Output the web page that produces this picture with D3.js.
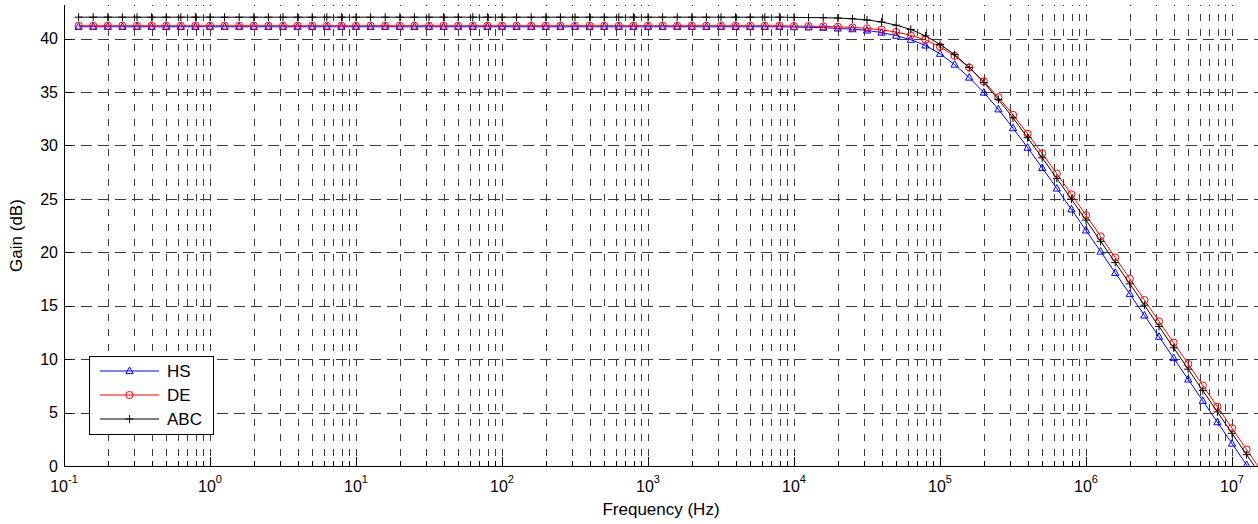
<!DOCTYPE html>
<html>
<head>
<meta charset="utf-8">
<script src="https://cdn.jsdelivr.net/npm/d3@7"></script>
<style>
  body { margin: 0; background: #fff; }
  svg { display: block; font-family: "Liberation Sans", Arial, Helvetica, sans-serif; }
</style>
</head>
<body>
<svg id="chart" width="1258" height="524"></svg>
<script>
// Sample frequencies, as log10(Hz)
const logFreq = [
  -0.9, -0.8, -0.7, -0.6, -0.5, -0.4, -0.3, -0.2, -0.1, 0.0,
   0.1,  0.2,  0.3,  0.4,  0.5,  0.6,  0.7,  0.8,  0.9, 1.0,
   1.1,  1.2,  1.3,  1.4,  1.5,  1.6,  1.7,  1.8,  1.9, 2.0,
   2.1,  2.2,  2.3,  2.4,  2.5,  2.6,  2.7,  2.8,  2.9, 3.0,
   3.1,  3.2,  3.3,  3.4,  3.5,  3.6,  3.7,  3.8,  3.9, 4.0,
   4.1,  4.2,  4.3,  4.4,  4.5,  4.6,  4.7,  4.8,  4.9, 5.0,
   5.1,  5.2,  5.3,  5.4,  5.5,  5.6,  5.7,  5.8,  5.9, 6.0,
   6.1,  6.2,  6.3,  6.4,  6.5,  6.6,  6.7,  6.8,  6.9, 7.0,
   7.1,  7.2
];

// Gain (dB) per series
const gainHS = [
  41.1, 41.1, 41.1, 41.1, 41.1, 41.1, 41.1, 41.1, 41.1, 41.1,
  41.1, 41.1, 41.1, 41.1, 41.1, 41.1, 41.1, 41.1, 41.1, 41.1,
  41.1, 41.1, 41.1, 41.1, 41.1, 41.1, 41.1, 41.1, 41.1, 41.1,
  41.1, 41.1, 41.1, 41.1, 41.1, 41.1, 41.1, 41.1, 41.1, 41.1,
  41.1, 41.1, 41.1, 41.1, 41.1, 41.1, 41.1, 41.1, 41.1, 41.07,
  41.05, 41.01, 40.95, 40.88, 40.76, 40.56, 40.27, 39.89, 39.36, 38.58,
  37.57, 36.35, 34.95, 33.38, 31.62, 29.79, 27.90, 25.97, 24.02, 22.05,
  20.07, 18.08, 16.09, 14.09, 12.10, 10.10, 8.10, 6.10, 4.10, 2.10,
  0.10, -1.90
];
const gainDE = [
  41.2, 41.2, 41.2, 41.2, 41.2, 41.2, 41.2, 41.2, 41.2, 41.2,
  41.2, 41.2, 41.2, 41.2, 41.2, 41.2, 41.2, 41.2, 41.2, 41.2,
  41.2, 41.2, 41.2, 41.2, 41.2, 41.2, 41.2, 41.2, 41.2, 41.2,
  41.2, 41.2, 41.2, 41.2, 41.2, 41.2, 41.2, 41.2, 41.2, 41.2,
  41.2, 41.2, 41.2, 41.2, 41.2, 41.2, 41.2, 41.2, 41.2, 41.17,
  41.16, 41.14, 41.10, 41.04, 40.95, 40.82, 40.61, 40.30, 39.88, 39.24,
  38.38, 37.29, 35.99, 34.50, 32.86, 31.09, 29.25, 27.36, 25.42, 23.47,
  21.49, 19.51, 17.52, 15.53, 13.53, 11.54, 9.54, 7.54, 5.54, 3.54,
  1.54, -0.46
];
const gainABC = [
  42.0, 42.0, 42.0, 42.0, 42.0, 42.0, 42.0, 42.0, 42.0, 42.0,
  42.0, 42.0, 42.0, 42.0, 42.0, 42.0, 42.0, 42.0, 42.0, 42.0,
  42.0, 42.0, 42.0, 42.0, 42.0, 42.0, 42.0, 42.0, 42.0, 42.0,
  42.0, 42.0, 42.0, 42.0, 42.0, 42.0, 42.0, 42.0, 42.0, 42.0,
  42.0, 42.0, 42.0, 42.0, 42.0, 42.0, 42.0, 42.0, 42.0, 41.98,
  41.97, 41.95, 41.92, 41.85, 41.74, 41.55, 41.25, 40.85, 40.25, 39.45,
  38.50, 37.30, 35.90, 34.30, 32.58, 30.72, 28.84, 26.92, 24.97, 23.01,
  21.03, 19.04, 17.05, 15.05, 13.06, 11.06, 9.06, 7.06, 5.06, 3.06,
  1.06, -0.94
];

const seriesNames = ["HS", "DE", "ABC"];
const yTickValues = [0, 5, 10, 15, 20, 25, 30, 35, 40];
const decadeExponents = [-1, 0, 1, 2, 3, 4, 5, 6, 7];
const xLabel = "Frequency (Hz)";
const yLabel = "Gain (dB)";

// ---------------------------------------------------------------
const svg = d3.select("#chart");
const box = { left: 64, right: 1258, top: 5, bottom: 466 };

const x = d3.scaleLog()
  .domain([0.1, Math.pow(10, 7.178)])
  .range([box.left, box.right]);
const y = d3.scaleLinear()
  .domain([0, 43.14])
  .range([box.bottom, box.top]);

const gridColor = "#3a3a3a";

// vertical grid: decades and their 2..9 multiples
const xGridValues = [];
decadeExponents.forEach(e => {
  for (let m = 1; m <= 9; m++) {
    const v = m * Math.pow(10, e);
    if (v <= x.domain()[1]) xGridValues.push({ v, major: m === 1 });
  }
});

const grid = svg.append("g").attr("class", "grid");
grid.selectAll("line.vg").data(xGridValues).join("line")
  .attr("class", "vg")
  .attr("x1", d => Math.round(x(d.v)) + 0.5)
  .attr("x2", d => Math.round(x(d.v)) + 0.5)
  .attr("y1", box.top)
  .attr("y2", box.bottom)
  .attr("stroke", gridColor)
  .attr("stroke-width", 1)
  .attr("stroke-dasharray", "1,8,6,0");

grid.selectAll("line.hg").data(yTickValues.filter(v => v > 0)).join("line")
  .attr("class", "hg")
  .attr("x1", box.left)
  .attr("x2", box.right)
  .attr("y1", d => Math.round(y(d)) + 0.5)
  .attr("y2", d => Math.round(y(d)) + 0.5)
  .attr("stroke", gridColor)
  .attr("stroke-width", 1)
  .attr("stroke-dasharray", "11,6");

// axes lines and inward ticks
const axes = svg.append("g").attr("class", "axes");
axes.append("line")
  .attr("x1", box.left + 0.5).attr("x2", box.left + 0.5)
  .attr("y1", box.top).attr("y2", box.bottom + 0.5)
  .attr("stroke", "#000");
axes.append("line")
  .attr("x1", box.left).attr("x2", box.right)
  .attr("y1", box.bottom + 0.5).attr("y2", box.bottom + 0.5)
  .attr("stroke", "#000");

axes.selectAll("line.xt").data(xGridValues).join("line")
  .attr("class", "xt")
  .attr("x1", d => Math.round(x(d.v)) + 0.5)
  .attr("x2", d => Math.round(x(d.v)) + 0.5)
  .attr("y1", box.bottom)
  .attr("y2", d => box.bottom - (d.major ? 9 : 5))
  .attr("stroke", "#000");

axes.selectAll("line.yt").data(yTickValues).join("line")
  .attr("class", "yt")
  .attr("x1", box.left)
  .attr("x2", box.left + 8)
  .attr("y1", d => Math.round(y(d)) + 0.5)
  .attr("y2", d => Math.round(y(d)) + 0.5)
  .attr("stroke", "#000");

// tick labels
const xt = axes.selectAll("text.xl").data(decadeExponents).join("text")
  .attr("class", "xl")
  .attr("x", d => x(Math.pow(10, d)))
  .attr("y", 492)
  .attr("text-anchor", "middle")
  .attr("font-size", 16)
  .attr("fill", "#000");
xt.append("tspan").text("10");
xt.append("tspan")
  .attr("font-size", 11)
  .attr("dy", -9)
  .text(d => String(d));

axes.selectAll("text.yl").data(yTickValues).join("text")
  .attr("class", "yl")
  .attr("x", 58)
  .attr("y", d => y(d))
  .attr("dy", "0.36em")
  .attr("text-anchor", "end")
  .attr("font-size", 16)
  .attr("fill", "#000")
  .text(d => d);

svg.append("text")
  .attr("x", (box.left + box.right) / 2)
  .attr("y", 515)
  .attr("text-anchor", "middle")
  .attr("font-size", 17)
  .text(xLabel);

svg.append("text")
  .attr("transform", `translate(22,${(box.top + box.bottom) / 2}) rotate(-90)`)
  .attr("text-anchor", "middle")
  .attr("font-size", 17)
  .text(yLabel);

// clip region for curves
svg.append("defs").append("clipPath").attr("id", "plotClip")
  .append("rect")
  .attr("x", box.left).attr("y", box.top - 5)
  .attr("width", box.right - box.left + 10)
  .attr("height", box.bottom - box.top + 5);

const series = [
  { name: seriesNames[0], values: gainHS,  color: "#0000ff", marker: "triangle" },
  { name: seriesNames[1], values: gainDE,  color: "#ff0000", marker: "circle" },
  { name: seriesNames[2], values: gainABC, color: "#000000", marker: "plus" }
];

function drawMarker(sel, kind, color) {
  if (kind === "triangle") {
    sel.append("path").attr("d", "M0,-4L3.6,2.6L-3.6,2.6Z")
      .attr("fill", "none").attr("stroke", color).attr("stroke-width", 1);
  } else if (kind === "circle") {
    sel.append("circle").attr("r", 3.6)
      .attr("fill", "none").attr("stroke", color).attr("stroke-width", 1);
  } else {
    sel.append("path").attr("d", "M-4,0H4M0,-4V4")
      .attr("fill", "none").attr("stroke", color).attr("stroke-width", 1);
  }
}

const line = d3.line()
  .x(d => x(Math.pow(10, d[0])))
  .y(d => y(d[1]));

const curves = svg.append("g").attr("clip-path", "url(#plotClip)");
series.forEach(s => {
  const pts = logFreq.map((e, i) => [e, s.values[i]]);
  const g = curves.append("g");
  g.append("path").datum(pts)
    .attr("d", line)
    .attr("fill", "none")
    .attr("stroke", s.color)
    .attr("stroke-width", 1);
  g.selectAll("g.m").data(pts).join("g")
    .attr("class", "m")
    .attr("transform", d => `translate(${x(Math.pow(10, d[0]))},${y(d[1])})`)
    .each(function () { drawMarker(d3.select(this), s.marker, s.color); });
});

// legend
const lg = svg.append("g").attr("class", "legend");
lg.append("rect")
  .attr("x", 89.5).attr("y", 356.5)
  .attr("width", 124).attr("height", 78)
  .attr("fill", "#fff").attr("stroke", "#000");
series.forEach((s, i) => {
  const ly = 371 + i * 24;
  lg.append("line")
    .attr("x1", 100).attr("x2", 159)
    .attr("y1", ly).attr("y2", ly)
    .attr("stroke", s.color);
  drawMarker(lg.append("g").attr("transform", `translate(129.5,${ly})`), s.marker, s.color);
  lg.append("text")
    .attr("x", 167).attr("y", ly + 6)
    .attr("font-size", 17)
    .text(s.name);
});
</script>
</body>
</html>
